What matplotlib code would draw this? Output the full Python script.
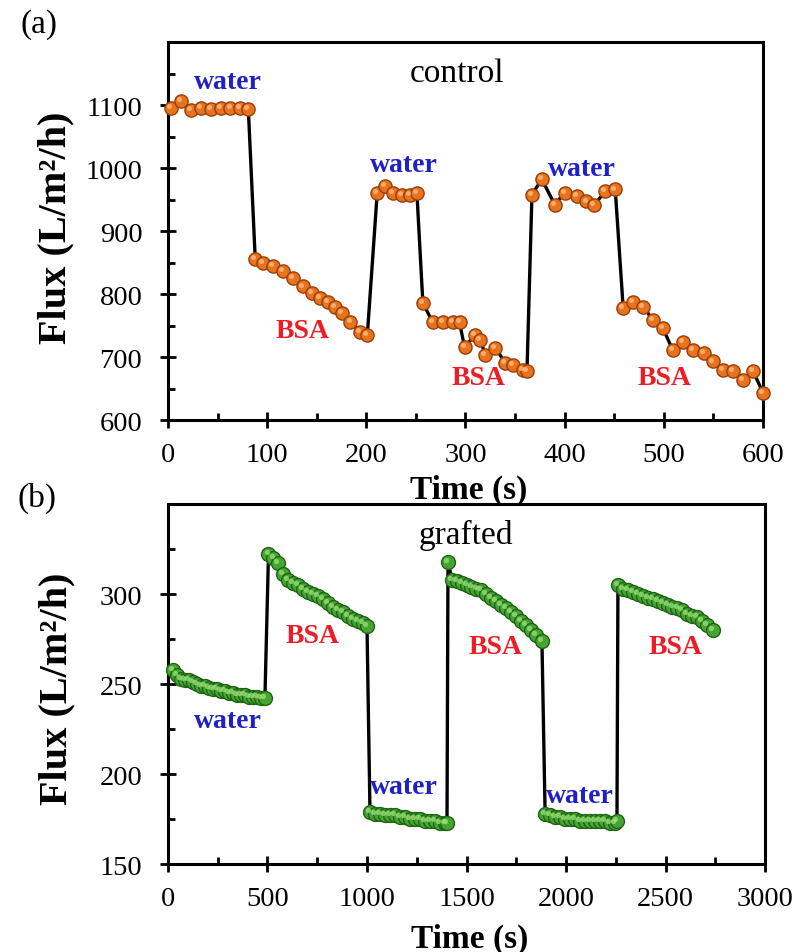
import matplotlib
matplotlib.use("Agg")
import matplotlib.pyplot as plt
from matplotlib import transforms
from matplotlib.ticker import MultipleLocator

plt.rcParams['font.family'] = ['Liberation Serif', 'DejaVu Serif']

# (a) control membrane
t_ctrl = [3, 13, 23, 33, 43, 53, 63, 73, 81,
          88, 96, 106, 116, 126, 136, 145, 153, 161, 168, 175, 184, 194, 201,
          211, 219, 227, 236, 244, 251,
          257, 267, 277, 287, 294, 299, 310, 315, 320, 330, 340, 348, 358, 362,
          367, 377, 390, 400, 412, 422, 430, 441, 451,
          459, 469, 479, 489, 499, 509, 519, 529, 540, 550, 560, 570, 580, 590, 600]
flux_ctrl = [1095, 1106, 1092, 1095, 1094, 1095, 1096, 1096, 1094,
             855, 850, 844, 836, 826, 812, 802, 794, 788, 780, 770, 756, 740, 735,
             961, 971, 961, 958, 958, 961,
             786, 755, 756, 756, 755, 716, 735, 727, 703, 715, 691, 687, 680, 678,
             958, 982, 942, 961, 955, 947, 942, 963, 966,
             778, 788, 780, 759, 746, 711, 724, 711, 707, 693, 680, 678, 664, 678, 643]

# (b) grafted membrane
t_graft = [25, 45, 65, 85, 105, 125, 145, 165, 185, 205, 225, 245, 265, 285, 305, 325,
           345, 365, 385, 405, 425, 445, 465, 487,
           505, 530, 555, 580, 605, 630, 655, 680, 705, 730, 755, 780, 805, 830, 855,
           880, 905, 930, 955, 980, 1000,
           1015, 1040, 1065, 1090, 1115, 1140, 1165, 1190, 1215, 1240, 1265, 1290,
           1315, 1340, 1365, 1390, 1402,
           1407, 1427, 1450, 1475, 1500, 1525, 1550, 1575, 1600, 1625, 1650, 1675,
           1700, 1725, 1750, 1775, 1800, 1825, 1850, 1879,
           1895, 1920, 1945, 1970, 1995, 2020, 2045, 2070, 2095, 2120, 2145, 2170,
           2195, 2220, 2245, 2256,
           2261, 2285, 2310, 2335, 2360, 2385, 2410, 2435, 2460, 2485, 2510, 2535,
           2560, 2585, 2610, 2635, 2660, 2685, 2710, 2740]
flux_graft = [258, 255, 253, 252, 252, 251, 250, 249, 249, 248, 247, 247, 246, 246, 245, 245,
              244, 244, 244, 243, 243, 243, 242, 242,
              322, 320, 317, 311, 308, 306, 305, 303, 301, 300, 299, 297, 295, 293, 291,
              290, 288, 286, 285, 284, 282,
              179, 178, 178, 177, 177, 177, 176, 176, 175, 175, 175, 174,
              174, 174, 173, 173, 173,
              318, 308, 307, 306, 305, 304, 303, 302, 300, 298, 296, 294,
              292, 290, 288, 285, 283, 280, 277, 274,
              178, 177, 176, 176, 175, 175, 175, 174, 174, 174, 174, 174,
              174, 173, 173, 174,
              305, 303, 302, 301, 300, 299, 298, 297, 296, 295, 294, 293,
              292, 291, 289, 288, 287, 285, 283, 280]

ctrl_labels = ['control', 'water', 'water', 'water', 'BSA', 'BSA', 'BSA']
ctrl_label_t = [291, 60, 238, 417, 136, 313, 501]
ctrl_label_y = [1151, 1137, 1006, 1000, 742, 668, 668]

graft_labels = ['grafted', 'water', 'water', 'water', 'BSA', 'BSA', 'BSA']
graft_label_t = [1497, 301, 1186, 2070, 724, 1648, 2548]
graft_label_y = [333, 230, 193, 188, 277, 271, 271]

label_style = {
    'control': dict(color='black', fontsize=24, fontweight='normal'),
    'grafted': dict(color='black', fontsize=24, fontweight='normal'),
    'water': dict(color='#2020C8', fontsize=20, fontweight='bold'),
    'BSA': dict(color='#EE1C24', fontsize=20, fontweight='bold'),
}


def draw_series(ax, t, y, face, edge, shine, ms):
    ax.plot(t, y, '-', color='black', lw=2.4, zorder=3, clip_on=False)
    ax.plot(t, y, 'o', ms=ms, mfc=face, mec=edge, mew=1.0, zorder=4, clip_on=False)
    shift = transforms.offset_copy(ax.transData, fig=ax.figure, x=-1.4, y=1.4, units='points')
    ax.plot(t, y, 'o', ms=ms * 0.38, mfc=shine, mec='none', alpha=0.75, zorder=5,
            transform=shift, clip_on=False)


def style_axes(ax, xmaj, xmin, ymaj, ymin):
    for s in ax.spines.values():
        s.set_linewidth(2.2)
    ax.xaxis.set_major_locator(MultipleLocator(xmaj))
    ax.xaxis.set_minor_locator(MultipleLocator(xmin))
    ax.yaxis.set_major_locator(MultipleLocator(ymaj))
    ax.yaxis.set_minor_locator(MultipleLocator(ymin))
    ax.tick_params(which='major', direction='inout', length=11, width=2.0, labelsize=20.5)
    ax.tick_params(which='minor', direction='in', length=5, width=2.0)
    ax.tick_params(axis='x', which='major', pad=10)
    ax.tick_params(axis='y', which='major', pad=13)
    ax.tick_params(top=False, right=False, which='both')


fig = plt.figure(figsize=(8.03, 9.53), dpi=100)
ax1 = fig.add_axes([0.2092, 0.5582, 0.741, 0.3966])
ax2 = fig.add_axes([0.2092, 0.0923, 0.7435, 0.3778])

draw_series(ax1, t_ctrl, flux_ctrl, '#E8731E', '#9A3E08', '#FFC08A', 9.5)
ax1.set_xlim(0, 600)
ax1.set_ylim(600, 1200)
style_axes(ax1, 100, 50, 100, 50)
ax1.set_yticks([600, 700, 800, 900, 1000, 1100])
for lab, tx, ty in zip(ctrl_labels, ctrl_label_t, ctrl_label_y):
    ax1.text(tx, ty, lab, ha='center', va='center', zorder=2, **label_style[lab])

draw_series(ax2, t_graft, flux_graft, '#46A532', '#1E6414', '#9BE07A', 10)
ax2.set_xlim(0, 3000)
ax2.set_ylim(150, 350)
style_axes(ax2, 500, 250, 50, 25)
ax2.set_yticks([150, 200, 250, 300])
for lab, tx, ty in zip(graft_labels, graft_label_t, graft_label_y):
    ax2.text(tx, ty, lab, ha='center', va='center', zorder=2, **label_style[lab])

for ax, xl, yl in [(ax1, (0.505, -0.1825), (-0.188, 0.511)),
                   (ax2, (0.506, -0.2056), (-0.186, 0.49))]:
    ax.set_xlabel('Time (s)', fontsize=24, fontweight='bold', va='center')
    ax.set_ylabel('Flux (L/m²/h)', fontsize=29, fontweight='bold', va='center')
    ax.xaxis.set_label_coords(*xl)
    ax.yaxis.set_label_coords(*yl)

fig.text(39 / 803, 1 - 25 / 953, '(a)', fontsize=24, ha='center', va='center')
fig.text(37 / 803, 1 - 498 / 953, '(b)', fontsize=24, ha='center', va='center')

fig.savefig('out.png', dpi=100)
